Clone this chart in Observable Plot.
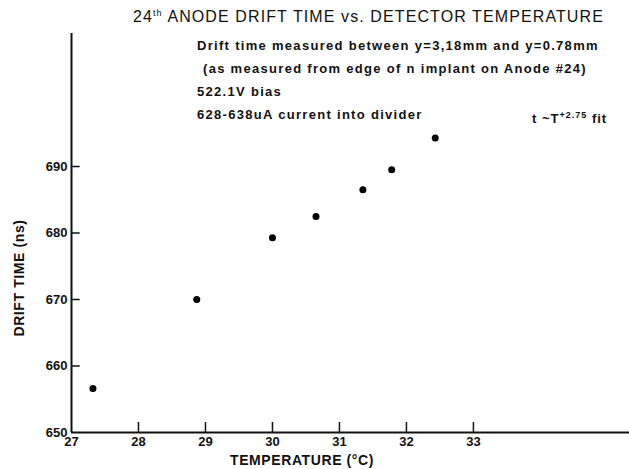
<!DOCTYPE html>
<html>
<head>
<meta charset="utf-8">
<script src="https://cdn.jsdelivr.net/npm/d3@7"></script>
<script src="https://cdn.jsdelivr.net/npm/@observablehq/plot@0.6"></script>
<style>
  html, body { margin: 0; padding: 0; background: #fff; }
  #wrap { position: relative; width: 629px; height: 469px; font-family: "Liberation Sans", Arial, sans-serif; color: #111; }
  .ann { position: absolute; font-size: 13px; font-weight: bold; white-space: nowrap; letter-spacing: 1.3px; line-height: 14px; }
  #title { position: absolute; left: 133px; top: 8px; font-size: 16px; letter-spacing: 1.1px; white-space: nowrap; }
  #title sup { font-size: 9px; }
  .axlab { position: absolute; font-size: 14px; font-weight: bold; letter-spacing: 0.6px; white-space: nowrap; }
</style>
</head>
<body>
<div id="wrap">
  <div id="title">24<sup>th</sup> ANODE DRIFT TIME vs. DETECTOR TEMPERATURE</div>
  <div class="ann" style="left:197px; top:39px;">Drift time measured between y=3,18mm and y=0.78mm</div>
  <div class="ann" style="left:203px; top:62px;">(as measured from edge of n implant on Anode #24)</div>
  <div class="ann" style="left:197px; top:85px;">522.1V bias</div>
  <div class="ann" style="left:197px; top:108px;">628-638uA current into divider</div>
  <div class="ann" style="left:532px; top:108px; letter-spacing:1px;">t ~T<sup style="font-size:9px">+2.75</sup> fit</div>
  <div class="axlab" id="xlab" style="left:302px; top:452px; transform: translateX(-50%);">TEMPERATURE (°C)</div>
  <div class="axlab" id="ylab" style="left:19px; top:278px; transform: translate(-50%, -50%) rotate(-90deg);">DRIFT TIME (ns)</div>
</div>
<script>
const temperature = [27.32, 28.87, 30.0, 30.65, 31.35, 31.78, 32.43];
const driftTime   = [656.6, 670.0, 679.3, 682.5, 686.5, 689.5, 694.3];
const xTicks = [27, 28, 29, 30, 31, 32, 33];
const yTicks = [650, 660, 670, 680, 690];

const data = temperature.map((t, i) => ({t, d: driftTime[i]}));

const chart = Plot.plot({
  width: 629,
  height: 469,
  marginLeft: 71,
  marginRight: 0,
  marginTop: 33,
  marginBottom: 37,
  style: {fontFamily: "Liberation Sans, Arial, sans-serif", color: "#111", background: "transparent"},
  x: {domain: [27, 35.33]},
  y: {domain: [650, 710]},
  marks: [
    Plot.axisX(xTicks, {tickSize: 0, tickPadding: 4, fontSize: 13, fontWeight: "bold", label: null}),
    Plot.axisY(yTicks, {tickSize: 0, tickPadding: 4, fontSize: 13, fontWeight: "bold", label: null}),
    Plot.ruleX(xTicks.slice(1), {y1: 650, y2: 651.5, strokeWidth: 1.5}),
    Plot.ruleY(yTicks.slice(1), {x1: 27, x2: 27.13, strokeWidth: 1.5}),
    Plot.ruleX([27], {y1: 650, y2: 710, strokeWidth: 2}),
    Plot.ruleY([650], {strokeWidth: 2}),
    Plot.dot(data, {x: "t", y: "d", r: 3.5, fill: "#000", stroke: null})
  ]
});
chart.style.position = "absolute";
chart.style.left = "0";
chart.style.top = "0";
document.getElementById("wrap").prepend(chart);
</script>
</body>
</html>
